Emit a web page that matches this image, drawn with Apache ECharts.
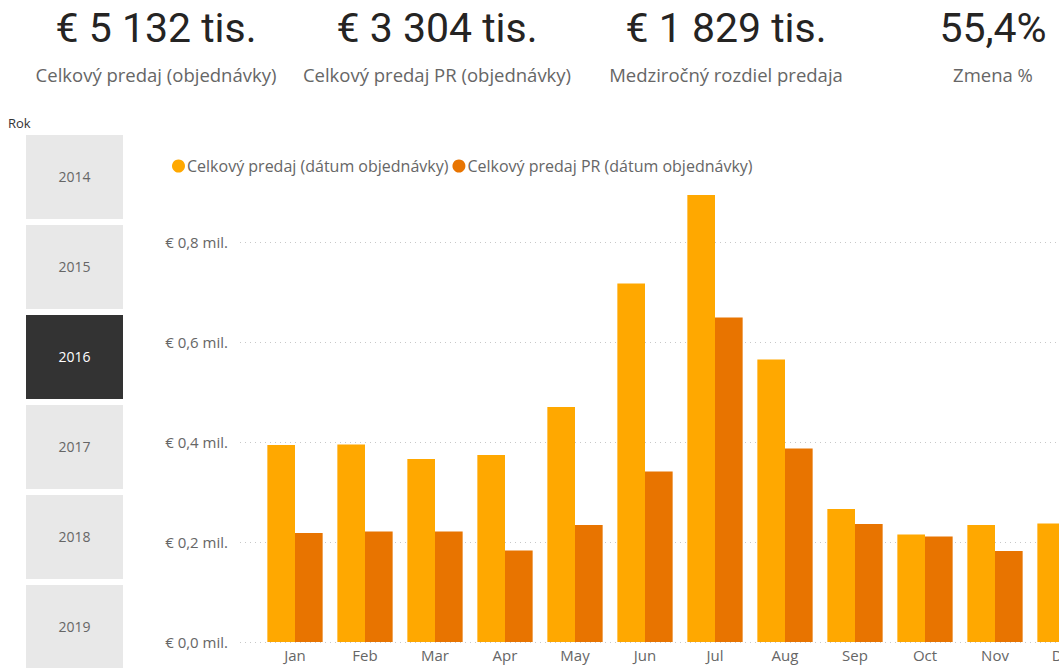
<!DOCTYPE html>
<html>
<head>
<meta charset="utf-8">
<script src="https://cdn.jsdelivr.net/npm/echarts@6/dist/echarts.min.js"></script>
<style>
  html, body { margin:0; padding:0; background:#fff; width:1059px; height:668px; overflow:hidden; }
  #chart { position:absolute; left:0; top:0; width:1120px; height:668px; }
  .kpi { position:absolute; width:300px; text-align:center; z-index:2; white-space:nowrap; }
  .kpi .val { position:absolute; left:0; width:300px; top:8px; font-family:Roboto, sans-serif; font-size:41px; line-height:41px; color:#252423; }
  .kpi .lab { position:absolute; left:0; width:300px; top:65px; font-family:"Open Sans", sans-serif; font-size:18.5px; line-height:19px; color:#666; }
  #rok { position:absolute; left:8px; top:114px; font-family:"Open Sans", sans-serif; font-size:13px; color:#333; z-index:2; }
  .yr { position:absolute; left:26px; width:97px; height:84px; background:#e8e8e8; color:#666; font-family:"Open Sans", sans-serif; font-size:14px; text-align:center; line-height:84px; z-index:2; }
  .yr.sel { background:#333; color:#fff; }
</style>
</head>
<body>
<div id="chart"></div>
<div id="overlay"></div>
<script>
// ---- data ----
const kpiValues = ['€ 5 132 tis.', '€ 3 304 tis.', '€ 1 829 tis.', '55,4%'];
const kpiLabels = ['Celkový predaj (objednávky)', 'Celkový predaj PR (objednávky)', 'Medziročný rozdiel predaja', 'Zmena %'];
const years = ['2014', '2015', '2016', '2017', '2018', '2019'];
const selectedYear = '2016';
const months = ['Jan','Feb','Mar','Apr','May','Jun','Jul','Aug','Sep','Oct','Nov','Dec'];
const seriesNames = ['Celkový predaj (dátum objednávky)', 'Celkový predaj PR (dátum objednávky)'];
const salesTotal = [0.394, 0.395, 0.366, 0.374, 0.470, 0.717, 0.894, 0.565, 0.266, 0.215, 0.234, 0.237];
const salesPR    = [0.218, 0.221, 0.221, 0.183, 0.234, 0.341, 0.649, 0.387, 0.236, 0.211, 0.182, 0.221];
const yTicks = [0, 0.2, 0.4, 0.6, 0.8];

// ---- layout (HTML cards & slicer) ----
const overlay = document.getElementById('overlay');
const kpiCenters = [156, 437, 726, 993];
kpiValues.forEach((v, i) => {
  const d = document.createElement('div');
  d.className = 'kpi';
  d.style.left = (kpiCenters[i] - 150) + 'px';
  d.style.top = '0px';
  d.innerHTML = '<div class="val"></div><div class="lab"></div>';
  d.querySelector('.val').textContent = v;
  d.querySelector('.lab').textContent = kpiLabels[i];
  overlay.appendChild(d);
});
const rok = document.createElement('div');
rok.id = 'rok'; rok.textContent = 'Rok';
overlay.appendChild(rok);
years.forEach((y, i) => {
  const b = document.createElement('div');
  b.className = 'yr' + (y === selectedYear ? ' sel' : '');
  b.style.top = (135 + i * 90) + 'px';
  b.textContent = y;
  overlay.appendChild(b);
});

// ---- chart ----
const chart = echarts.init(document.getElementById('chart'), null, { renderer: 'svg' });
const fmt = v => '€ ' + v.toFixed(1).replace('.', ',') + ' mil.';
chart.setOption({
  animation: false,
  textStyle: { fontFamily: '"Open Sans", sans-serif' },
  color: ['#FFA800', '#E87400'],
  legend: {
    data: seriesNames,
    left: 167, top: 153,
    icon: 'circle', itemWidth: 13, itemHeight: 13, itemGap: 4,
    textStyle: { color: '#666', fontSize: 16, padding: [0, 0, 0, -3] }
  },
  grid: [
    { left: 240, right: 0, top: 242, bottom: 26 },
    { left: 260, width: 840, top: 142, bottom: 26 }
  ],
  xAxis: [
    { type: 'value', gridIndex: 0, show: false, min: 0, max: 1 },
    { type: 'category', gridIndex: 1, data: months,
      axisLine: { show: false }, axisTick: { show: false },
      axisLabel: { color: '#666', fontSize: 15, margin: 5 } }
  ],
  yAxis: [
    { type: 'value', gridIndex: 0, min: yTicks[0], max: yTicks[yTicks.length - 1], interval: 0.2,
      axisLine: { show: false }, axisTick: { show: false },
      axisLabel: { formatter: fmt, color: '#666', fontSize: 15, margin: 12 },
      splitLine: { lineStyle: { type: [1, 4], color: '#c8c8c8', width: 1 } } },
    { type: 'value', gridIndex: 1, min: 0, max: 1, show: false, splitLine: { show: false } }
  ],
  series: [
    { name: seriesNames[0], type: 'bar', xAxisIndex: 1, yAxisIndex: 1, data: salesTotal,
      barGap: '0%', barCategoryGap: '21%' },
    { name: seriesNames[1], type: 'bar', xAxisIndex: 1, yAxisIndex: 1, data: salesPR,
      barGap: '0%', barCategoryGap: '21%' }
  ]
});
</script>
</body>
</html>
